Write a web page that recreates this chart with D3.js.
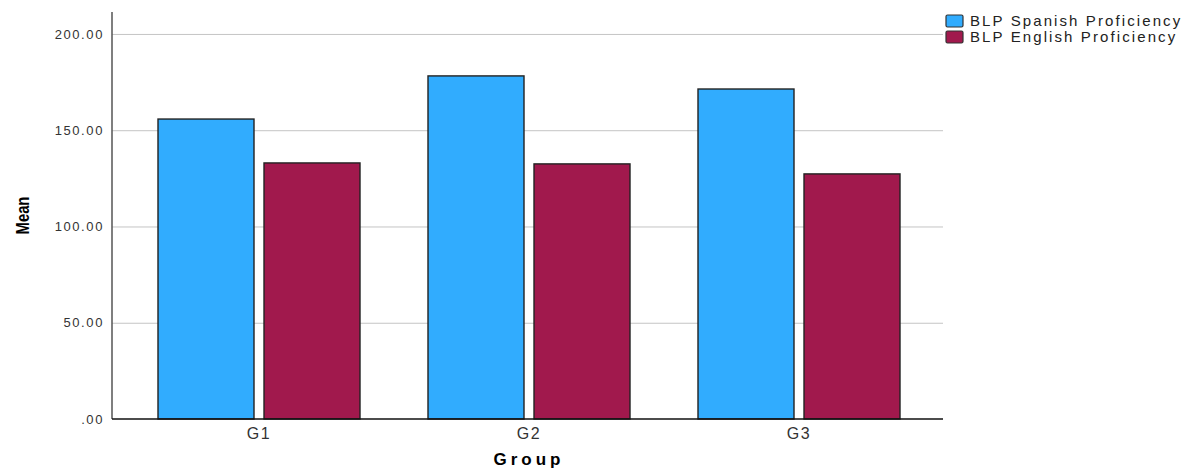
<html>
<style>
  body { margin: 0; background: white; }
  text { font-family: "Liberation Sans", Arial, sans-serif; }
  .tick text { fill: #333; }
</style>

<head>
  <script src="https://d3js.org/d3.v7.min.js"></script>
</head>

<body>
  <svg id="chart" width="1185" height="470"></svg>
  <script>
    // data
    const groups = ["G1", "G2", "G3"];
    const series = ["BLP Spanish Proficiency", "BLP English Proficiency"];
    const spanish = [155.8, 178.2, 171.4];
    const english = [133.0, 132.5, 127.3];
    const yTicks = [0, 50, 100, 150, 200];
    const colors = ["#31acfe", "#a1194d"];

    const rows = groups.map((g, i) => ({ group: g, values: [spanish[i], english[i]] }));

    const svg = d3.select("svg#chart");
    const plotLeft = 112, plotRight = 943, plotTop = 12, plotBottom = 419;

    const yScale = d3.scaleLinear().domain([0, 211.4]).range([plotBottom, plotTop]);
    const xScale = d3.scaleBand().domain(groups).range([124, 934]);
    // bars sit inside each group band
    const inner = d3.scaleBand().domain(series).range([34, 236]).paddingInner(10 / 106);

    // gridlines
    let grid = d3.axisLeft(yScale).tickValues(yTicks.filter(d => d > 0))
      .tickSize(-(plotRight - plotLeft)).tickFormat("");
    svg.append("g")
      .attr("class", "gridlines")
      .attr("transform", `translate(${plotLeft},0)`)
      .call(grid)
      .call(g => g.select(".domain").remove())
      .call(g => g.selectAll("line").attr("stroke", "#c4c4c4").attr("stroke-width", 1));

    // bars
    let bars = svg.append("g").attr("id", "bars");
    rows.forEach(r => {
      r.values.forEach((v, j) => {
        bars.append("rect")
          .attr("x", xScale(r.group) + inner(series[j]))
          .attr("y", yScale(v))
          .attr("width", inner.bandwidth())
          .attr("height", yScale(0) - yScale(v))
          .attr("fill", colors[j])
          .attr("stroke", "#222")
          .attr("stroke-width", 1.4);
      });
    });

    // y axis
    let leftAxis = d3.axisLeft(yScale).tickValues(yTicks).tickSize(0).tickPadding(8)
      .tickFormat(d => d === 0 ? ".00" : d3.format(".2f")(d));
    svg.append("g")
      .attr("class", "y axis")
      .attr("transform", `translate(${plotLeft},0)`)
      .call(leftAxis)
      .call(g => g.select(".domain").remove())
      .call(g => g.selectAll("text").attr("font-size", 13).attr("letter-spacing", 1.6)
        .attr("font-family", "Liberation Sans, Arial, sans-serif"));
    svg.append("line")
      .attr("x1", plotLeft).attr("x2", plotLeft)
      .attr("y1", plotTop).attr("y2", plotBottom)
      .attr("stroke", "#555").attr("stroke-width", 1.5);

    // x axis
    let bottomAxis = d3.axisBottom(xScale).tickSize(0).tickPadding(9);
    svg.append("g")
      .attr("class", "x axis")
      .attr("transform", `translate(0,${plotBottom})`)
      .call(bottomAxis)
      .call(g => g.select(".domain").remove())
      .call(g => g.selectAll("text").attr("font-size", 16).attr("letter-spacing", 1.5)
        .attr("font-family", "Liberation Sans, Arial, sans-serif"));
    svg.append("line")
      .attr("x1", plotLeft).attr("x2", plotRight)
      .attr("y1", plotBottom).attr("y2", plotBottom)
      .attr("stroke", "#111").attr("stroke-width", 1.5);

    // axis titles
    svg.append("text")
      .attr("transform", `translate(29,${(plotTop + plotBottom) / 2}) rotate(-90) scale(0.78,1)`)
      .attr("text-anchor", "middle")
      .attr("font-weight", "bold")
      .attr("font-size", 19)
      .text("Mean");
    svg.append("text")
      .attr("x", 529).attr("y", 465)
      .attr("text-anchor", "middle")
      .attr("font-weight", "bold")
      .attr("font-size", 17)
      .attr("letter-spacing", 4)
      .text("Group");

    // legend
    let legend = svg.append("g").attr("class", "legend");
    series.forEach((s, i) => {
      legend.append("rect")
        .attr("x", 946).attr("y", 15 + i * 16)
        .attr("width", 17).attr("height", 12)
        .attr("rx", 1.5)
        .attr("fill", colors[i])
        .attr("stroke", "#333").attr("stroke-width", 1.2);
      legend.append("text")
        .attr("x", 970).attr("y", 26 + i * 16)
        .attr("font-size", 15)
        .attr("letter-spacing", 2.1)
        .attr("fill", "#222")
        .text(s);
    });
  </script>
</body>

</html>
